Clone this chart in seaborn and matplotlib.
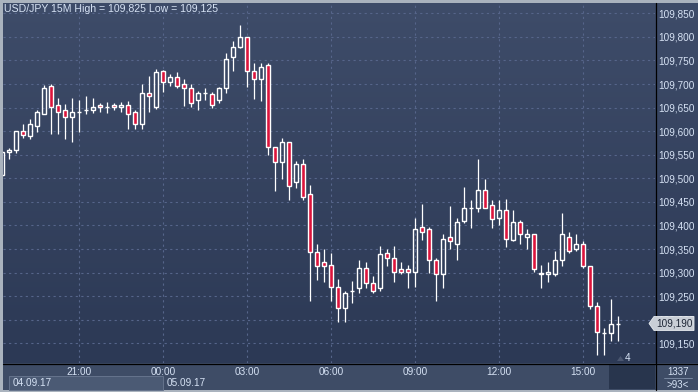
import numpy as np
import pandas as pd
import matplotlib.pyplot as plt
import seaborn as sns
from matplotlib.patches import Rectangle, Polygon
from matplotlib.colors import LinearSegmentedColormap

# USD/JPY 15M candles, 04.09.17 18:15 .. 05.09.17 16:15
opens = [109.508, 109.555, 109.559, 109.600, 109.590, 109.610, 109.637, 109.696, 109.655, 109.645,
         109.630, 109.640, 109.645, 109.645, 109.655, 109.651, 109.655, 109.651, 109.655, 109.640,
         109.615, 109.680, 109.652, 109.728, 109.705, 109.715, 109.699, 109.691, 109.666, 109.680,
         109.678, 109.666, 109.691, 109.758, 109.779, 109.799, 109.728, 109.710, 109.740, 109.566,
         109.535, 109.576, 109.492, 109.530, 109.467, 109.344, 109.322, 109.316, 109.270, 109.226,
         109.260, 109.267, 109.310, 109.277, 109.267, 109.341, 109.330, 109.307, 109.307, 109.301,
         109.397, 109.393, 109.327, 109.296, 109.375, 109.360, 109.410, 109.436, 109.436, 109.475,
         109.443, 109.416, 109.432, 109.369, 109.407, 109.375, 109.382, 109.300, 109.296, 109.296,
         109.327, 109.376, 109.351, 109.361, 109.315, 109.230, 109.171, 109.171, 109.192]
highs = [109.558, 109.565, 109.600, 109.615, 109.625, 109.645, 109.697, 109.700, 109.670, 109.658,
         109.670, 109.666, 109.675, 109.670, 109.660, 109.661, 109.660, 109.661, 109.665, 109.645,
         109.700, 109.716, 109.731, 109.730, 109.722, 109.726, 109.711, 109.699, 109.686, 109.691,
         109.683, 109.693, 109.765, 109.791, 109.825, 109.799, 109.745, 109.745, 109.745, 109.566,
         109.585, 109.576, 109.536, 109.540, 109.486, 109.361, 109.351, 109.341, 109.286, 109.261,
         109.282, 109.327, 109.322, 109.292, 109.356, 109.351, 109.356, 109.322, 109.317, 109.415,
         109.446, 109.397, 109.332, 109.382, 109.441, 109.415, 109.482, 109.455, 109.541, 109.498,
         109.453, 109.453, 109.457, 109.432, 109.412, 109.392, 109.382, 109.316, 109.322, 109.346,
         109.427, 109.386, 109.382, 109.366, 109.315, 109.237, 109.183, 109.245, 109.208]
lows = [109.505, 109.540, 109.554, 109.586, 109.583, 109.599, 109.637, 109.595, 109.595, 109.583,
        109.576, 109.599, 109.636, 109.638, 109.640, 109.638, 109.645, 109.640, 109.605, 109.605,
        109.605, 109.640, 109.648, 109.684, 109.696, 109.692, 109.654, 109.651, 109.645, 109.666,
        109.649, 109.660, 109.680, 109.728, 109.776, 109.694, 109.669, 109.665, 109.550, 109.474,
        109.499, 109.454, 109.480, 109.454, 109.240, 109.285, 109.281, 109.240, 109.196, 109.196,
        109.236, 109.256, 109.267, 109.256, 109.260, 109.315, 109.281, 109.296, 109.267, 109.270,
        109.369, 109.300, 109.240, 109.267, 109.351, 109.326, 109.406, 109.395, 109.429, 109.436,
        109.395, 109.401, 109.355, 109.366, 109.360, 109.351, 109.301, 109.267, 109.281, 109.292,
        109.315, 109.342, 109.346, 109.309, 109.223, 109.125, 109.125, 109.156, 109.156]
closes = [109.556, 109.560, 109.600, 109.591, 109.615, 109.640, 109.691, 109.651, 109.640, 109.630,
          109.641, 109.640, 109.645, 109.651, 109.651, 109.651, 109.651, 109.655, 109.636, 109.615,
          109.680, 109.675, 109.725, 109.705, 109.715, 109.695, 109.691, 109.659, 109.680, 109.680,
          109.655, 109.691, 109.754, 109.779, 109.799, 109.728, 109.710, 109.736, 109.566, 109.535,
          109.576, 109.484, 109.530, 109.460, 109.344, 109.315, 109.315, 109.270, 109.226, 109.256,
          109.260, 109.310, 109.277, 109.261, 109.340, 109.330, 109.301, 109.301, 109.301, 109.393,
          109.386, 109.327, 109.296, 109.371, 109.367, 109.407, 109.436, 109.436, 109.475, 109.436,
          109.413, 109.432, 109.372, 109.407, 109.382, 109.382, 109.307, 109.296, 109.301, 109.326,
          109.382, 109.345, 109.360, 109.315, 109.230, 109.175, 109.171, 109.192, 109.192]

price_levels = [109.15, 109.20, 109.25, 109.30, 109.35, 109.40, 109.45,
                109.50, 109.55, 109.60, 109.65, 109.70, 109.75, 109.80, 109.85]
last_price = "109,190"
title = "USD/JPY 15M High = 109,825 Low = 109,125"
date_labels = ["04.09.17", "05.09.17"]

times = pd.date_range("2017-09-04 18:15", periods=len(opens), freq="15min")
df = pd.DataFrame({"time": times, "open": opens, "high": highs, "low": lows, "close": closes})
df["pos"] = np.arange(len(df))
df["up"] = df["close"] >= df["open"]
df["top"] = df[["open", "close"]].max(axis=1)
df["bot"] = df[["open", "close"]].min(axis=1)

sns.set_theme(style="dark", rc={"axes.facecolor": "none", "figure.facecolor": "#aab3be"})
plt.rcParams["font.family"] = ["Liberation Sans", "DejaVu Sans"]

W, H = 698, 392
fig = plt.figure(figsize=(W / 100, H / 100), dpi=100)

def fr(x0, y0, x1, y1):
    return [x0 / W, 1 - y1 / H, (x1 - x0) / W, (y1 - y0) / H]

# gradient background for plot + price panel
bg = fig.add_axes(fr(3, 3, 698, 363), zorder=0)
cmap = LinearSegmentedColormap.from_list("bg", ["#3e4c69", "#2c3955"])
bg.imshow(np.linspace(0, 1, 256).reshape(-1, 1), aspect="auto", cmap=cmap, extent=[0, 1, 0, 1])
bg.set_axis_off()

# bottom time panel
fig.add_artist(Rectangle((3 / W, 2 / H), 695 / W, 27 / H, transform=fig.transFigure,
                         facecolor="#3e4c66", edgecolor="none", zorder=1))
fig.add_artist(Rectangle((609 / W, 3 / H), 46 / W, 25 / H, transform=fig.transFigure,
                         facecolor="#28354d", edgecolor="none", zorder=2))
fig.add_artist(Rectangle((9 / W, 2.5 / H), 154 / W, 14 / H, transform=fig.transFigure,
                         facecolor="#4b5a74", edgecolor="#66748c", lw=0.7, zorder=2))

ax = fig.add_axes(fr(3, 3, 655, 363), zorder=3)
ax.set_facecolor("none")
ax.set_xlim(0.1, 0.1 + 652 / 7)
ax.set_ylim(109.1083, 109.8718)

red = "#dc143c"
wick = dict(color="white", lw=0.9, zorder=3)
ax.vlines(df["pos"], df["top"], df["high"], **wick)
ax.vlines(df["pos"], df["low"], df["bot"], **wick)
ax.bar(df["pos"], df["top"] - df["bot"], bottom=df["bot"], width=0.58,
       color=np.where(df["up"], "none", red), edgecolor="white", linewidth=1.0, zorder=4)

ax.yaxis.tick_right()
ax.set_yticks(price_levels)
ax.set_yticklabels([f"{v:.3f}".replace(".", ",") for v in price_levels])
ticks = df[(df["time"].dt.minute == 0) & (df["time"].dt.hour % 3 == 0)]
ax.set_xticks(ticks["pos"])
ax.set_xticklabels(ticks["time"].dt.strftime("%H:%M"))
ax.tick_params(axis="y", length=0, pad=2.5, labelsize=7.2, labelcolor="#d6e2f4")
ax.tick_params(axis="x", length=0, pad=3.2, labelsize=7.2, labelcolor="#d6e2f4")
ax.grid(True, color="#56658a", lw=0.8, ls=(0, (2, 3)))
for s in ax.spines.values():
    s.set_visible(False)
ax.set_xlabel("")
ax.set_ylabel("")

# separators
fig.add_artist(plt.Line2D([655.5 / W, 655.5 / W], [2 / H, 1 - 3 / H], color="black", lw=0.9, zorder=6))
fig.add_artist(plt.Line2D([3 / W, 1], [1 - 363.5 / H, 1 - 363.5 / H], color="black", lw=0.9, zorder=6))

txt = "#d6e2f4"
fig.text(4 / W, 1 - 8.5 / H, title, color=txt, fontsize=7.6, va="center", ha="left", zorder=7)
fig.text(13 / W, 1 - 383 / H, date_labels[0], color=txt, fontsize=7.2, va="center", zorder=7)
fig.text(167 / W, 1 - 383 / H, date_labels[1], color=txt, fontsize=7.2, va="center", zorder=7)
fig.text(678 / W, 1 - 372 / H, "1337", color=txt, fontsize=7, ha="center", va="center", zorder=7)
fig.text(678 / W, 1 - 384.5 / H, ">93<", color=txt, fontsize=7, ha="center", va="center", zorder=7)
fig.add_artist(plt.Line2D([664 / W, 692 / W], [1 - 378 / H, 1 - 378 / H], color="#8090a8", lw=0.6, zorder=7))
fig.text(628 / W, 1 - 358 / H, "4", color=txt, fontsize=7.2, ha="center", va="center", zorder=7)
fig.add_artist(Polygon([[617 / W, 1 - 361 / H], [624 / W, 1 - 361 / H], [620.5 / W, 1 - 356 / H]],
                       closed=True, transform=fig.transFigure, facecolor="#4a5670", edgecolor="none", zorder=7))

# last price tag
yp = 323.5
tag = [[649, yp], [654, yp - 7], [694, yp - 7], [694, yp + 7], [654, yp + 7]]
fig.add_artist(Polygon([[x / W, 1 - y / H] for x, y in tag], closed=True, transform=fig.transFigure,
                       facecolor="#c9ced6", edgecolor="#e8ecf0", lw=0.6, zorder=8))
fig.text(656 / W, 1 - yp / H, last_price, color="#1e2636", fontsize=7.2, va="center", ha="left", zorder=9)

fig.savefig("out.png", dpi=100)
